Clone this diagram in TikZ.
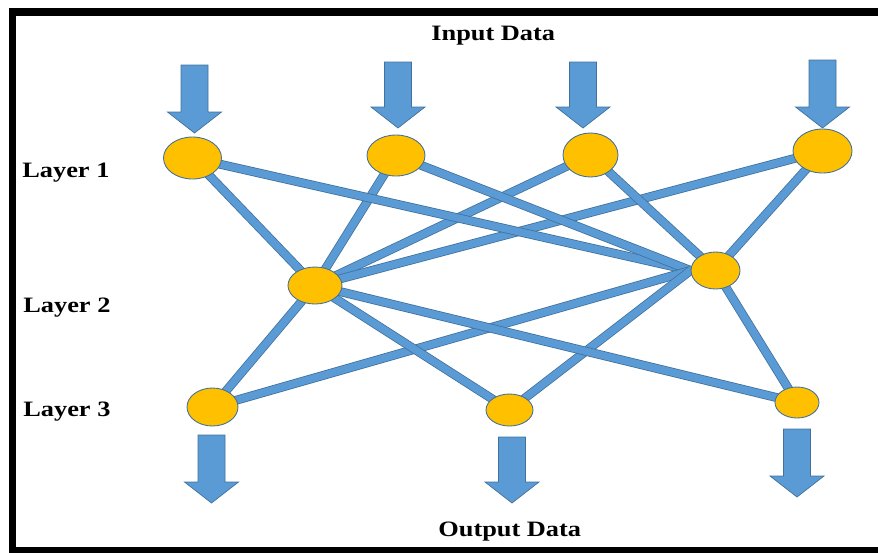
\documentclass[tikz,border=0pt]{standalone}
\usepackage{fontspec}
\setmainfont{Liberation Serif}[FakeStretch=1.2]
\usetikzlibrary{shapes.geometric,backgrounds}
\definecolor{nodeyellow}{HTML}{FFC000}
\definecolor{linkblue}{HTML}{5B9BD5}
\definecolor{rimblue}{HTML}{41719C}
\tikzset{
  neuron/.style={ellipse, fill=nodeyellow, draw=rimblue, line width=0.5pt, inner sep=0pt},
  link/.style={draw=rimblue, line width=0.45pt, double=linkblue, double distance=4.2pt},
  arrowbody/.style={fill=linkblue, draw=rimblue, line width=0.4pt},
  lbl/.style={font=\fontsize{12.5}{15}\selectfont\bfseries, inner sep=0pt}
}
\def\blockarrow(#1,#2,#3){\draw[arrowbody] (#1-13.5,#2) -- (#1+13.5,#2) -- (#1+13.5,#3-21) -- (#1+27,#3-21) -- (#1,#3) -- (#1-27,#3-21) -- (#1-13.5,#3-21) -- cycle;}

\begin{document}
\begin{tikzpicture}[x=0.02cm, y=-0.02cm]
				\useasboundingbox (0,0) rectangle (878,552);
				\draw[line width=0.16cm] (882,12) -- (12.5,12) -- (12.5,551) -- (882,551);
				
				% layer 1
				\node[neuron, minimum width=58*0.02cm, minimum height=42*0.02cm] (a1) at (192.5,158) {};
				\node[neuron, minimum width=58*0.02cm, minimum height=41*0.02cm] (a2) at (396,155.5) {};
				\node[neuron, minimum width=55*0.02cm, minimum height=44*0.02cm] (a3) at (590.5,155) {};
				\node[neuron, minimum width=59*0.02cm, minimum height=44*0.02cm] (a4) at (822.5,151) {};
				% layer 2
				\node[neuron, minimum width=54*0.02cm, minimum height=37*0.02cm] (b1) at (315,285.5) {};
				\node[neuron, minimum width=49*0.02cm, minimum height=37*0.02cm] (b2) at (715.5,270.5) {};
				% layer 3
				\node[neuron, minimum width=51*0.02cm, minimum height=38*0.02cm] (c1) at (212.5,407) {};
				\node[neuron, minimum width=47*0.02cm, minimum height=32*0.02cm] (c2) at (509.5,410) {};
				\node[neuron, minimum width=44*0.02cm, minimum height=31*0.02cm] (c3) at (797,402.5) {};
				
				\begin{pgfonlayer}{background}
				\foreach \a in {a1,a2,a3,a4}
					\draw[link] (\a.center) -- (b1.center);
				\foreach \a in {a1,a2,c1,c2}
					\draw[link] (\a.center) -- (b2.west);
				\foreach \a in {a3,a4,c3}
					\draw[link] (\a.center) -- (b2.center);
				\foreach \c in {c1,c2,c3}
					\draw[link] (b1.center) -- (\c.center);
				\end{pgfonlayer}
				
				% input and output arrows
				\blockarrow(194.5,65,133)
				\blockarrow(398,62,128)
				\blockarrow(583,62,128)
				\blockarrow(822.5,60,128)
				\blockarrow(211.5,435,503)
				\blockarrow(512,437,503)
				\blockarrow(797,429,497)
				
				\node[lbl, anchor=base west] (inp) at (431,40) {Input Data};
				\node[lbl, anchor=base west] (outp) at (438,536) {Output Data};
				\node[lbl, anchor=base west] (l1) at (22,177) {Layer 1};
				\node[lbl, anchor=base west] (l2) at (23,312) {Layer 2};
				\node[lbl, anchor=base west] (l3) at (23,416) {Layer 3};
			\end{tikzpicture}
\end{document}
